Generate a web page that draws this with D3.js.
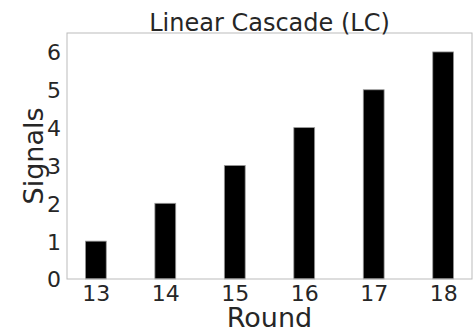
<!DOCTYPE html>
<html>
<head>
<meta charset="utf-8">
<script src="https://cdn.jsdelivr.net/npm/d3@7/dist/d3.min.js"></script>
<style>
  html, body { margin: 0; padding: 0; background: #fff; }
  svg { display: block; font-family: "DejaVu Sans", sans-serif; }
</style>
</head>
<body>
<svg id="chart" width="473" height="329"></svg>
<script>
const rounds = [13, 14, 15, 16, 17, 18];
const signals = [1, 2, 3, 4, 5, 6];
const yTicks = [0, 1, 2, 3, 4, 5, 6];
const title = "Linear Cascade (LC)";
const xLabel = "Round";
const yLabel = "Signals";

const svg = d3.select("#chart");
const m = { left: 67, right: 472, top: 33, bottom: 279 };
const barW = 0.3;

const x = d3.scaleLinear()
  .domain([rounds[0] - barW / 2 - 0.265, rounds[rounds.length - 1] + barW / 2 + 0.265])
  .range([m.left, m.right]);
const y = d3.scaleLinear().domain([0, 6.5]).range([m.bottom, m.top]);

// bars
svg.append("g").selectAll("rect")
  .data(rounds.map((r, i) => ({ r, v: signals[i] })))
  .join("rect")
  .attr("x", d => x(d.r - barW / 2))
  .attr("width", d => x(d.r + barW / 2) - x(d.r - barW / 2))
  .attr("y", d => y(d.v))
  .attr("height", d => y(0) - y(d.v))
  .attr("fill", "#000")
  .attr("stroke", "#999")
  .attr("stroke-width", 0.8);

// axes
const xAxis = svg.append("g")
  .attr("transform", `translate(0,${m.bottom})`)
  .call(d3.axisBottom(x).tickValues(rounds).tickSize(0).tickPadding(6).tickFormat(d3.format("d")));
const yAxis = svg.append("g")
  .attr("transform", `translate(${m.left},0)`)
  .call(d3.axisLeft(y).tickValues(yTicks).tickSize(0).tickPadding(6).tickFormat(d3.format("d")));

[xAxis, yAxis].forEach(g => {
  g.select(".domain").remove();
  g.selectAll("text")
    .attr("fill", "#262626")
    .style("font-family", '"DejaVu Sans", sans-serif')
    .style("font-size", "22px");
});
xAxis.selectAll("text").attr("dy", "0.71em");
yAxis.selectAll("text").attr("dy", "0.36em");

// frame
svg.append("rect")
  .attr("x", m.left).attr("y", m.top)
  .attr("width", m.right - m.left).attr("height", m.bottom - m.top)
  .attr("fill", "none").attr("stroke", "#bbb").attr("stroke-width", 1);

// title
svg.append("text")
  .attr("x", (m.left + m.right) / 2).attr("y", 31)
  .attr("text-anchor", "middle")
  .attr("fill", "#262626")
  .style("font-size", "24px")
  .text(title);

// x label
svg.append("text")
  .attr("x", (m.left + m.right) / 2).attr("y", 327)
  .attr("text-anchor", "middle")
  .attr("fill", "#262626")
  .style("font-size", "27px")
  .text(xLabel);

// y label
svg.append("text")
  .attr("transform", `translate(43,${(m.top + m.bottom) / 2}) rotate(-90)`)
  .attr("text-anchor", "middle")
  .attr("fill", "#262626")
  .style("font-size", "27px")
  .text(yLabel);
</script>
</body>
</html>
